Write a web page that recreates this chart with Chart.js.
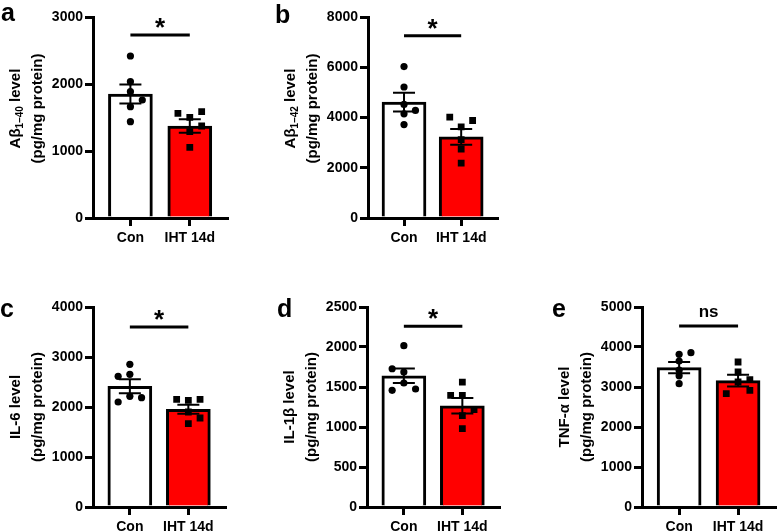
<!DOCTYPE html>
<html>
<head>
<meta charset="utf-8">
<script src="https://cdn.jsdelivr.net/npm/chart.js@4.4.0/dist/chart.umd.min.js"></script>
<style>
  html, body { margin: 0; padding: 0; background: #fff; }
  #wrap { position: relative; width: 780px; height: 532px; overflow: hidden; }
  canvas { position: absolute; }
</style>
</head>
<body>
<div id="wrap">
  <canvas id="chartA" width="232" height="252" style="left:0;top:0"></canvas>
  <canvas id="chartB" width="252" height="252" style="left:250px;top:0"></canvas>
  <canvas id="chartC" width="230" height="242" style="left:0;top:290px"></canvas>
  <canvas id="chartD" width="244" height="242" style="left:260px;top:290px"></canvas>
  <canvas id="chartE" width="245" height="242" style="left:535px;top:290px"></canvas>
</div>
<script>
// groups
const groups = ['Con', 'IHT 14d'];

// a - Abeta 1-40
const ab40Mean = [1851, 1373];
const ab40Sem = [142, 100];
const ab40Con = [2418, 2034, 1885, 1761, 1661, 1437];
const ab40Iht = [1563, 1587, 1503, 1373, 1288, 1055];
const ab40ConDx = [0, 0, 0, 0.2, 0, 0];
const ab40IhtDx = [-0.2, 0.2, 0, 0.2, 0, 0];
const ab40Ticks = [0, 1000, 2000, 3000];

// b - Abeta 1-42
const ab42Mean = [4613, 3230];
const ab42Sem = [370, 310];
const ab42Con = [6027, 5213, 4520, 4280, 4147, 3720];
const ab42Iht = [4013, 3880, 3627, 3120, 2747, 2187];
const ab42ConDx = [0, 0, 0, 0.2, 0, 0];
const ab42IhtDx = [-0.2, 0.2, 0, 0, 0, 0];
const ab42Ticks = [0, 2000, 4000, 6000, 8000];

// c - IL-6
const il6Mean = [2413, 1953];
const il6Sem = [140, 90];
const il6Con = [2853, 2613, 2653, 2100, 2213, 2187];
const il6Iht = [2153, 2133, 2153, 1900, 1667, 1780];
const il6ConDx = [0, -0.2, 0, -0.2, 0, 0.2];
const il6IhtDx = [-0.2, 0, 0.2, 0, 0, 0.2];
const il6Ticks = [0, 1000, 2000, 3000, 4000];

// d - IL-1beta
const il1bMean = [1641, 1266];
const il1bSem = [90, 96];
const il1bCon = [2016, 1728, 1687, 1550, 1458, 1475];
const il1bIht = [1562, 1395, 1395, 1216, 1141, 979];
const il1bConDx = [0, -0.2, 0, 0, -0.2, 0.2];
const il1bIhtDx = [0, -0.2, 0, 0.2, 0, 0];
const il1bTicks = [0, 500, 1000, 1500, 2000, 2500];

// e - TNF-alpha
const tnfMean = [3485, 3160];
const tnfSem = [140, 145];
const tnfCon = [3817, 3858, 3650, 3420, 3280, 3083];
const tnfIht = [3625, 3375, 3183, 3125, 2833, 2917];
const tnfConDx = [0, 0.2, 0, 0, 0, 0];
const tnfIhtDx = [0, 0, 0.2, 0, -0.2, 0.2];
const tnfTicks = [0, 1000, 2000, 3000, 4000, 5000];

// significance
const sigText = ['*', '*', '*', '*', 'ns'];
const sigLevel = [2731, 7252, 3600, 2258, 4525];

const FONT = '"Liberation Sans", Arial, sans-serif';
Chart.defaults.font.family = FONT;
Chart.defaults.font.weight = 'bold';
Chart.defaults.font.size = 14;
Chart.defaults.color = '#000';

// rotated axis title, parts = [text, isSubscript]
function drawTitle(ctx, parts, cx, cy) {
  ctx.save();
  ctx.translate(cx, cy);
  ctx.rotate(-Math.PI / 2);
  ctx.textBaseline = 'middle';
  ctx.textAlign = 'left';
  ctx.fillStyle = '#000';
  let w = 0;
  parts.forEach(p => {
    ctx.font = p[1] ? 'bold 10px ' + FONT : 'bold 15px ' + FONT;
    w += ctx.measureText(p[0]).width;
  });
  let x = -w / 2;
  parts.forEach(p => {
    ctx.font = p[1] ? 'bold 10px ' + FONT : 'bold 15px ' + FONT;
    ctx.fillText(p[0], x, p[1] ? 4 : 0);
    x += ctx.measureText(p[0]).width;
  });
  ctx.restore();
}

function makePanel(id, p) {
  const axisStyle = {
    display: true, drawOnChartArea: false, drawTicks: true, offset: false,
    tickLength: 8, lineWidth: 3, color: '#000'
  };
  const panelPlugin = {
    id: 'panel_' + id,
    afterDatasetsDraw(chart) {
      const ctx = chart.ctx, xs = chart.scales.x, ys = chart.scales.y;
      ctx.save();
      ctx.strokeStyle = '#000';
      // error bars (mean +/- SEM)
      ctx.lineWidth = 2;
      p.mean.forEach((m, i) => {
        const px = xs.getPixelForValue(i);
        const t = ys.getPixelForValue(m + p.sem[i]);
        const b = ys.getPixelForValue(m - p.sem[i]);
        ctx.beginPath();
        ctx.moveTo(px, t); ctx.lineTo(px, b);
        ctx.moveTo(px - 11, t); ctx.lineTo(px + 11, t);
        ctx.moveTo(px - 11, b); ctx.lineTo(px + 11, b);
        ctx.stroke();
      });
      // significance bar
      const x0 = xs.getPixelForValue(0), x1 = xs.getPixelForValue(1);
      const sy = ys.getPixelForValue(p.sig);
      ctx.lineWidth = 3;
      ctx.beginPath();
      ctx.moveTo(x0, sy); ctx.lineTo(x1, sy);
      ctx.stroke();
      ctx.fillStyle = '#000';
      ctx.textAlign = 'center';
      ctx.textBaseline = 'alphabetic';
      if (p.sigLabel === '*') {
        ctx.font = 'bold 26px ' + FONT;
        ctx.fillText('*', (x0 + x1) / 2, sy + 1);
      } else {
        ctx.font = 'bold 17px ' + FONT;
        ctx.fillText(p.sigLabel, (x0 + x1) / 2, sy - 9);
      }
      ctx.restore();
    },
    afterDraw(chart) {
      const ctx = chart.ctx, a = chart.chartArea;
      const cy = (a.top + a.bottom) / 2 + p.titleDy;
      drawTitle(ctx, p.title, a.left - 77, cy);
      drawTitle(ctx, [['(pg/mg protein)', false]], a.left - 55, cy);
      ctx.save();
      ctx.fillStyle = '#000';
      ctx.font = 'bold 25px ' + FONT;
      ctx.textAlign = 'left';
      ctx.textBaseline = 'alphabetic';
      ctx.fillText(p.letter, p.letterPos[0], p.letterPos[1]);
      ctx.restore();
    }
  };

  new Chart(document.getElementById(id), {
    type: 'bar',
    data: {
      datasets: [
        {
          type: 'scatter',
          data: p.con.map((v, i) => ({ x: 0 + p.conDx[i], y: v })),
          pointStyle: 'circle', pointRadius: 3.6,
          pointBackgroundColor: '#000', pointBorderColor: '#000', pointBorderWidth: 0,
          order: 1
        },
        {
          type: 'scatter',
          data: p.iht.map((v, i) => ({ x: 1 + p.ihtDx[i], y: v })),
          pointStyle: 'rect', pointRadius: 4.8,
          pointBackgroundColor: '#000', pointBorderColor: '#000', pointBorderWidth: 0,
          order: 1
        },
        {
          type: 'bar',
          data: p.mean.map((v, i) => ({ x: i, y: v })),
          backgroundColor: ['#ffffff', '#ff0000'],
          borderColor: '#000',
          borderWidth: 3,
          barThickness: 44,
          order: 2
        }
      ]
    },
    options: {
      responsive: false,
      animation: false,
      layout: { padding: { left: 0, right: 2, top: 17, bottom: 0 } },
      plugins: { legend: { display: false }, tooltip: { enabled: false } },
      scales: {
        x: {
          type: 'linear', min: -0.63, max: 1.63, offset: false, bounds: 'data', z: 1,
          afterBuildTicks: s => { s.ticks = groups.map((g, i) => ({ value: i })); },
          afterFit: s => { s.height = p.xh; },
          ticks: { callback: v => groups[v], padding: 4, autoSkip: false, maxRotation: 0 },
          grid: axisStyle,
          border: { display: true, width: 3, color: '#000' }
        },
        y: {
          type: 'linear', min: 0, max: p.ticks[p.ticks.length - 1], z: 1,
          afterBuildTicks: s => { s.ticks = p.ticks.map(v => ({ value: v })); },
          afterFit: s => { s.width = p.yw; },
          ticks: { callback: v => String(v), padding: 2 },
          grid: axisStyle,
          border: { display: true, width: 3, color: '#000' }
        }
      }
    },
    plugins: [panelPlugin]
  });
}

document.addEventListener('DOMContentLoaded', function() {
  makePanel('chartA', {
    mean: ab40Mean, sem: ab40Sem, con: ab40Con, iht: ab40Iht, conDx: ab40ConDx, ihtDx: ab40IhtDx,
    ticks: ab40Ticks, sig: sigLevel[0], sigLabel: sigText[0],
    title: [['A\u03b2', false], ['1\u201340', true], [' level', false]],
    letter: 'a', letterPos: [1, 21], yw: 93, xh: 34, titleDy: -9
  });
  makePanel('chartB', {
    mean: ab42Mean, sem: ab42Sem, con: ab42Con, iht: ab42Iht, conDx: ab42ConDx, ihtDx: ab42IhtDx,
    ticks: ab42Ticks, sig: sigLevel[1], sigLabel: sigText[1],
    title: [['A\u03b2', false], ['1\u201342', true], [' level', false]],
    letter: 'b', letterPos: [25, 23], yw: 118, xh: 34, titleDy: -9
  });
  makePanel('chartC', {
    mean: il6Mean, sem: il6Sem, con: il6Con, iht: il6Iht, conDx: il6ConDx, ihtDx: il6IhtDx,
    ticks: il6Ticks, sig: sigLevel[2], sigLabel: sigText[2],
    title: [['IL-6 level', false]],
    letter: 'c', letterPos: [0, 27], yw: 93, xh: 25, titleDy: 0
  });
  makePanel('chartD', {
    mean: il1bMean, sem: il1bSem, con: il1bCon, iht: il1bIht, conDx: il1bConDx, ihtDx: il1bIhtDx,
    ticks: il1bTicks, sig: sigLevel[3], sigLabel: sigText[3],
    title: [['IL-1\u03b2 level', false]],
    letter: 'd', letterPos: [17, 27], yw: 107, xh: 25, titleDy: 0
  });
  makePanel('chartE', {
    mean: tnfMean, sem: tnfSem, con: tnfCon, iht: tnfIht, conDx: tnfConDx, ihtDx: tnfIhtDx,
    ticks: tnfTicks, sig: sigLevel[4], sigLabel: sigText[4],
    title: [['TNF-\u03b1 level', false]],
    letter: 'e', letterPos: [17, 27], yw: 107, xh: 25, titleDy: 0
  });
});
</script>
</body>
</html>
